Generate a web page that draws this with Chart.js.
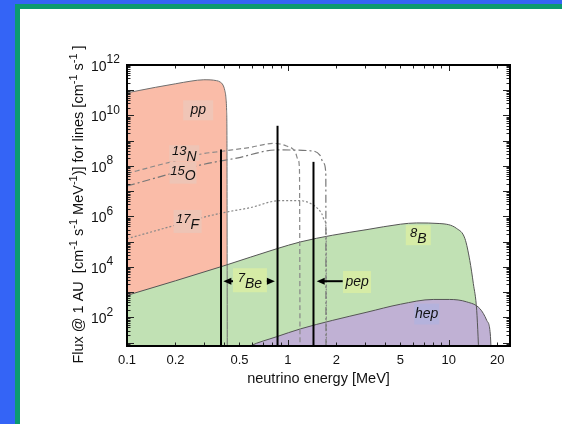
<!DOCTYPE html>
<html lang="en">
<head>
<meta charset="UTF-8">
<title>Solar neutrino spectrum</title>
<script src="https://cdn.jsdelivr.net/npm/chart.js@4.4.0/dist/chart.umd.min.js"></script>
<style>
    html, body { margin: 0; padding: 0; }
    body {
        width: 562px;
        height: 424px;
        background: #3464f6;
        position: relative;
        overflow: hidden;
        font-family: 'Liberation Sans', Arial, sans-serif;
    }
    .panel {
        position: absolute;
        left: 15px; top: 4px; right: 0; bottom: 0;
        background: #fff;
        border-left: 5px solid #0c9a70;
        border-top: 5px solid #0c9a70;
    }
    #fluxChart { position: absolute; left: 0; top: 0; }
</style>
</head>
<body>
<div class="panel"></div>
<canvas id="fluxChart" width="562" height="424"></canvas>
<script>
// energies in MeV, flux in cm-2 s-1 MeV-1 (lines: cm-2 s-1)
const ppE    = [0.1, 0.15, 0.2, 0.25, 0.3, 0.36, 0.38, 0.395, 0.405, 0.412, 0.416, 0.418, 0.42];
const ppFlux = [7.9e10, 1.3e11, 1.8e11, 2.3e11, 2.6e11, 2.4e11, 2.1e11, 1.6e11, 1.0e11, 5e10, 1.6e10, 1e9, 1];

const b8E    = [0.1, 0.2, 0.4, 0.85, 1.2, 1.9, 3.1, 5.0, 6.3, 8.8, 11.2, 12.6, 13.5, 14.2, 14.9, 15.5];
const b8Flux = [740, 2.8e3, 1.1e4, 5.2e4, 9.8e4, 1.8e5, 3.0e5, 4.9e5, 5.5e5, 5.2e5, 3.3e5, 1.3e5, 1.8e4, 2.2e3, 190, 1];

const hepE    = [0.5, 0.58, 0.85, 1.2, 1.9, 3.1, 5.0, 8.0, 10.1, 12.9, 15.6, 17.2, 18.1, 18.5];
const hepFlux = [4, 7.2, 17, 35, 76, 160, 330, 510, 510, 410, 220, 76, 22, 1];

const n13E    = [0.1, 0.15, 0.2, 0.284, 0.4, 0.58, 0.81, 0.98, 1.11, 1.16, 1.18, 1.19];
const n13Flux = [5.0e7, 1.0e8, 1.6e8, 2.9e8, 3.9e8, 5.4e8, 7.8e8, 6.2e8, 3.6e8, 1.7e8, 6.8e7, 1];

const o15E    = [0.1, 0.2, 0.284, 0.49, 0.85, 1.37, 1.58, 1.67, 1.72, 1.725];
const o15Flux = [1.6e7, 5.6e7, 1.07e8, 2.1e8, 4.3e8, 4.0e8, 2.7e8, 1.26e8, 5e7, 1];

const f17E    = [0.1, 0.2, 0.284, 0.407, 0.58, 0.89, 1.19, 1.44, 1.62, 1.69, 1.73, 1.735];
const f17Flux = [1.3e5, 4.5e5, 8.5e5, 1.45e6, 2.2e6, 4.2e6, 4.2e6, 2.8e6, 1.3e6, 7e5, 2e5, 1];

// mono-energetic lines: 7Be (two) and pep
const lineE    = [0.384, 0.862, 1.442];
const lineFlux = [4.5e8, 3.9e9, 1.45e8];

// labels inside the plot
const labelSup  = ['', '13', '15', '17', '7', '', '8', ''];
const labelMain = ['pp', 'N', 'O', 'F', 'Be', 'pep', 'B', 'hep'];
const labelE    = [0.277, 0.227, 0.223, 0.238, 0.581, 2.69, 6.46, 7.29];
const labelFlux = [1.6e10, 3.2e8, 5.4e7, 6.3e5, 2.95e3, 2.5e3, 1.8e5, 135];

// arrows pointing at the lines
const arrowFromE = [0.456, 0.74, 2.19];
const arrowToE   = [0.397, 0.83, 1.51];
const arrowFlux  = [2.7e3, 2.7e3, 2.7e3];

const xTickVals = [0.1, 0.2, 0.5, 1, 2, 5, 10, 20];
const yTickExp  = [2, 4, 6, 8, 10, 12];

const yTitleParts = [
    ['Flux @ 1 AU  [cm', 0], ['-1', 1], [' s', 0], ['-1', 1], [' MeV', 0], ['-1', 1],
    [')] for lines [cm', 0], ['-1', 1], [' s', 0], ['-1', 1], [' ]', 0]
];

const FONT = "'Liberation Sans', Arial, sans-serif";
Chart.defaults.font.family = FONT;

function toXY(xs, ys) {
    return xs.map((x, i) => ({ x: x, y: ys[i] }));
}

const pink = 'rgb(250,188,168)';
const green = 'rgb(193,225,180)';
const purple = 'rgb(192,177,212)';
const labelBg = ['rgb(240,197,182)', 'rgb(238,196,181)', 'rgb(238,196,181)', 'rgb(238,196,181)',
                 'rgb(214,236,166)', 'rgb(214,236,166)', 'rgb(214,236,166)', 'rgb(180,178,220)'];
const labelBoxW = [30, 30, 27, 28, 34, 28, 25, 25];
const labelBoxH = [20, 16, 22, 23, 24, 22, 20, 21];

const curveStyle = {
    pointRadius: 0,
    cubicInterpolationMode: 'monotone'
};

const datasets = [
    Object.assign({ label: 'pp', data: toXY(ppE, ppFlux), fill: 'start', backgroundColor: pink,
        borderColor: '#6f6f6f', borderWidth: 1, order: 5 }, curveStyle),
    Object.assign({ label: '8B', data: toXY(b8E, b8Flux), fill: 'start', backgroundColor: green,
        borderColor: '#555', borderWidth: 1, order: 4 }, curveStyle),
    Object.assign({ label: 'hep', data: toXY(hepE, hepFlux), fill: 'start', backgroundColor: purple,
        borderColor: '#555', borderWidth: 1, order: 3 }, curveStyle),
    Object.assign({ label: '13N', data: toXY(n13E, n13Flux), fill: false, borderColor: '#888',
        borderWidth: 1.2, borderDash: [5, 3], order: 2 }, curveStyle),
    Object.assign({ label: '15O', data: toXY(o15E, o15Flux), fill: false, borderColor: '#777',
        borderWidth: 1.2, borderDash: [8, 3, 2, 3], order: 2 }, curveStyle),
    Object.assign({ label: '17F', data: toXY(f17E, f17Flux), fill: false, borderColor: '#888',
        borderWidth: 1.2, borderDash: [2, 2], order: 2 }, curveStyle)
];
lineE.forEach((e, i) => {
    datasets.push({
        label: 'line ' + e,
        data: [{ x: e, y: 1 }, { x: e, y: lineFlux[i] }],
        fill: false, borderColor: '#000', borderWidth: 2, pointRadius: 0, order: 1
    });
});

// inward ticks, frame, labels, arrows, y axis text
const decorations = {
    id: 'decorations',
    afterDatasetsDraw(chart) {
        const ctx = chart.ctx;
        const a = chart.chartArea;
        const xs = chart.scales.x, ys = chart.scales.y;
        ctx.save();

        // labels
        labelMain.forEach((m, i) => {
            const cx = xs.getPixelForValue(labelE[i]);
            const cy = ys.getPixelForValue(labelFlux[i]);
            const w = labelBoxW[i], h = labelBoxH[i];
            ctx.fillStyle = labelBg[i];
            ctx.fillRect(cx - w / 2, cy - h / 2, w, h);
            ctx.fillStyle = '#111';
            ctx.textBaseline = 'alphabetic';
            ctx.textAlign = 'left';
            const sup = labelSup[i];
            ctx.font = 'italic 13px ' + FONT;
            const ws = sup ? ctx.measureText(sup).width : 0;
            ctx.font = 'italic 14px ' + FONT;
            const wm = ctx.measureText(m).width;
            let tx = cx - (ws + wm) / 2;
            if (sup) {
                ctx.font = 'italic 13px ' + FONT;
                ctx.fillText(sup, tx, cy + 2);
                tx += ws;
                ctx.font = 'italic 14px ' + FONT;
                ctx.fillText(m, tx, cy + 7.5);
            } else {
                ctx.fillText(m, tx, cy + 4);
            }
        });

        // arrows
        ctx.strokeStyle = '#000';
        ctx.fillStyle = '#000';
        ctx.lineWidth = 2;
        arrowFromE.forEach((e, i) => {
            const x0 = xs.getPixelForValue(e);
            const x1 = xs.getPixelForValue(arrowToE[i]);
            const y = ys.getPixelForValue(arrowFlux[i]);
            const dir = x1 < x0 ? -1 : 1;
            ctx.beginPath();
            ctx.moveTo(x0, y);
            ctx.lineTo(x1 - dir * 6, y);
            ctx.stroke();
            ctx.beginPath();
            ctx.moveTo(x1, y);
            ctx.lineTo(x1 - dir * 8, y - 3.5);
            ctx.lineTo(x1 - dir * 8, y + 3.5);
            ctx.closePath();
            ctx.fill();
        });

        // inward tick marks on all four sides
        ctx.strokeStyle = '#222';
        ctx.lineWidth = 1;
        ctx.beginPath();
        for (let n = -1; n <= 1; n++) {
            for (let k = 1; k <= 9; k++) {
                const v = k * Math.pow(10, n);
                if (v <= xs.min || v >= xs.max) continue;
                const px = Math.round(xs.getPixelForValue(v)) + 0.5;
                const len = k === 1 ? 6 : 3.5;
                ctx.moveTo(px, a.bottom); ctx.lineTo(px, a.bottom - len);
                ctx.moveTo(px, a.top); ctx.lineTo(px, a.top + len);
            }
        }
        for (let n = 0; n <= 11; n++) {
            for (let k = 1; k <= 9; k++) {
                const v = k * Math.pow(10, n);
                if (v <= ys.min || v >= ys.max) continue;
                const py = Math.round(ys.getPixelForValue(v)) + 0.5;
                const len = k === 1 ? 7 : 3.5;
                ctx.moveTo(a.left, py); ctx.lineTo(a.left + len, py);
                ctx.moveTo(a.right, py); ctx.lineTo(a.right - len, py);
            }
        }
        ctx.stroke();

        // frame
        ctx.strokeStyle = '#000';
        ctx.lineWidth = 2;
        ctx.strokeRect(a.left, a.top, a.right - a.left, a.bottom - a.top);

        // y tick labels 10^n
        ctx.fillStyle = '#111';
        ctx.textAlign = 'left';
        ctx.textBaseline = 'middle';
        yTickExp.forEach(n => {
            const py = ys.getPixelForValue(Math.pow(10, n));
            ctx.font = '14px ' + FONT;
            ctx.fillText('10', a.left - 36, py + 2);
            const w = ctx.measureText('10').width;
            ctx.font = '12px ' + FONT;
            ctx.fillText(String(n), a.left - 36 + w, py - 5);
        });

        // y axis title with superscripts
        ctx.translate(a.left - 44, (a.top + a.bottom) / 2 - 1);
        ctx.rotate(-Math.PI / 2);
        ctx.textBaseline = 'alphabetic';
        let total = 0;
        yTitleParts.forEach(p => {
            ctx.font = (p[1] ? '11px ' : '14.5px ') + FONT;
            total += ctx.measureText(p[0]).width;
        });
        let tx = -total / 2;
        yTitleParts.forEach(p => {
            ctx.font = (p[1] ? '11px ' : '14.5px ') + FONT;
            ctx.fillText(p[0], tx, p[1] ? -6 : 0);
            tx += ctx.measureText(p[0]).width;
        });
        ctx.restore();
    }
};

const chart = new Chart(document.getElementById('fluxChart'), {
    type: 'line',
    data: { datasets: datasets },
    options: {
        responsive: false,
        animation: false,
        layout: { padding: { left: 0, top: 65, right: 52, bottom: 36 } },
        plugins: {
            legend: { display: false },
            tooltip: { enabled: false },
            filler: { drawTime: 'beforeDatasetsDraw' }
        },
        scales: {
            x: {
                type: 'logarithmic',
                min: 0.1,
                max: 24,
                grid: { display: false, drawTicks: false },
                border: { display: true, color: '#000', width: 2 },
                afterBuildTicks: s => { s.ticks = xTickVals.map(v => ({ value: v })); },
                afterFit: s => { s.height = 42; },
                ticks: {
                    color: '#111',
                    font: { size: 13 },
                    padding: 7,
                    maxRotation: 0,
                    autoSkip: false,
                    callback: v => String(v)
                },
                title: {
                    display: true,
                    text: 'neutrino energy [MeV]',
                    color: '#111',
                    font: { size: 14.5 },
                    padding: 0
                }
            },
            y: {
                type: 'logarithmic',
                min: 7.3,
                max: 1e12,
                grid: { display: false, drawTicks: false },
                border: { display: true, color: '#000', width: 2 },
                afterFit: s => { s.width = 127; },
                ticks: { display: false }
            }
        }
    },
    plugins: [decorations]
});
</script>
</body>
</html>
